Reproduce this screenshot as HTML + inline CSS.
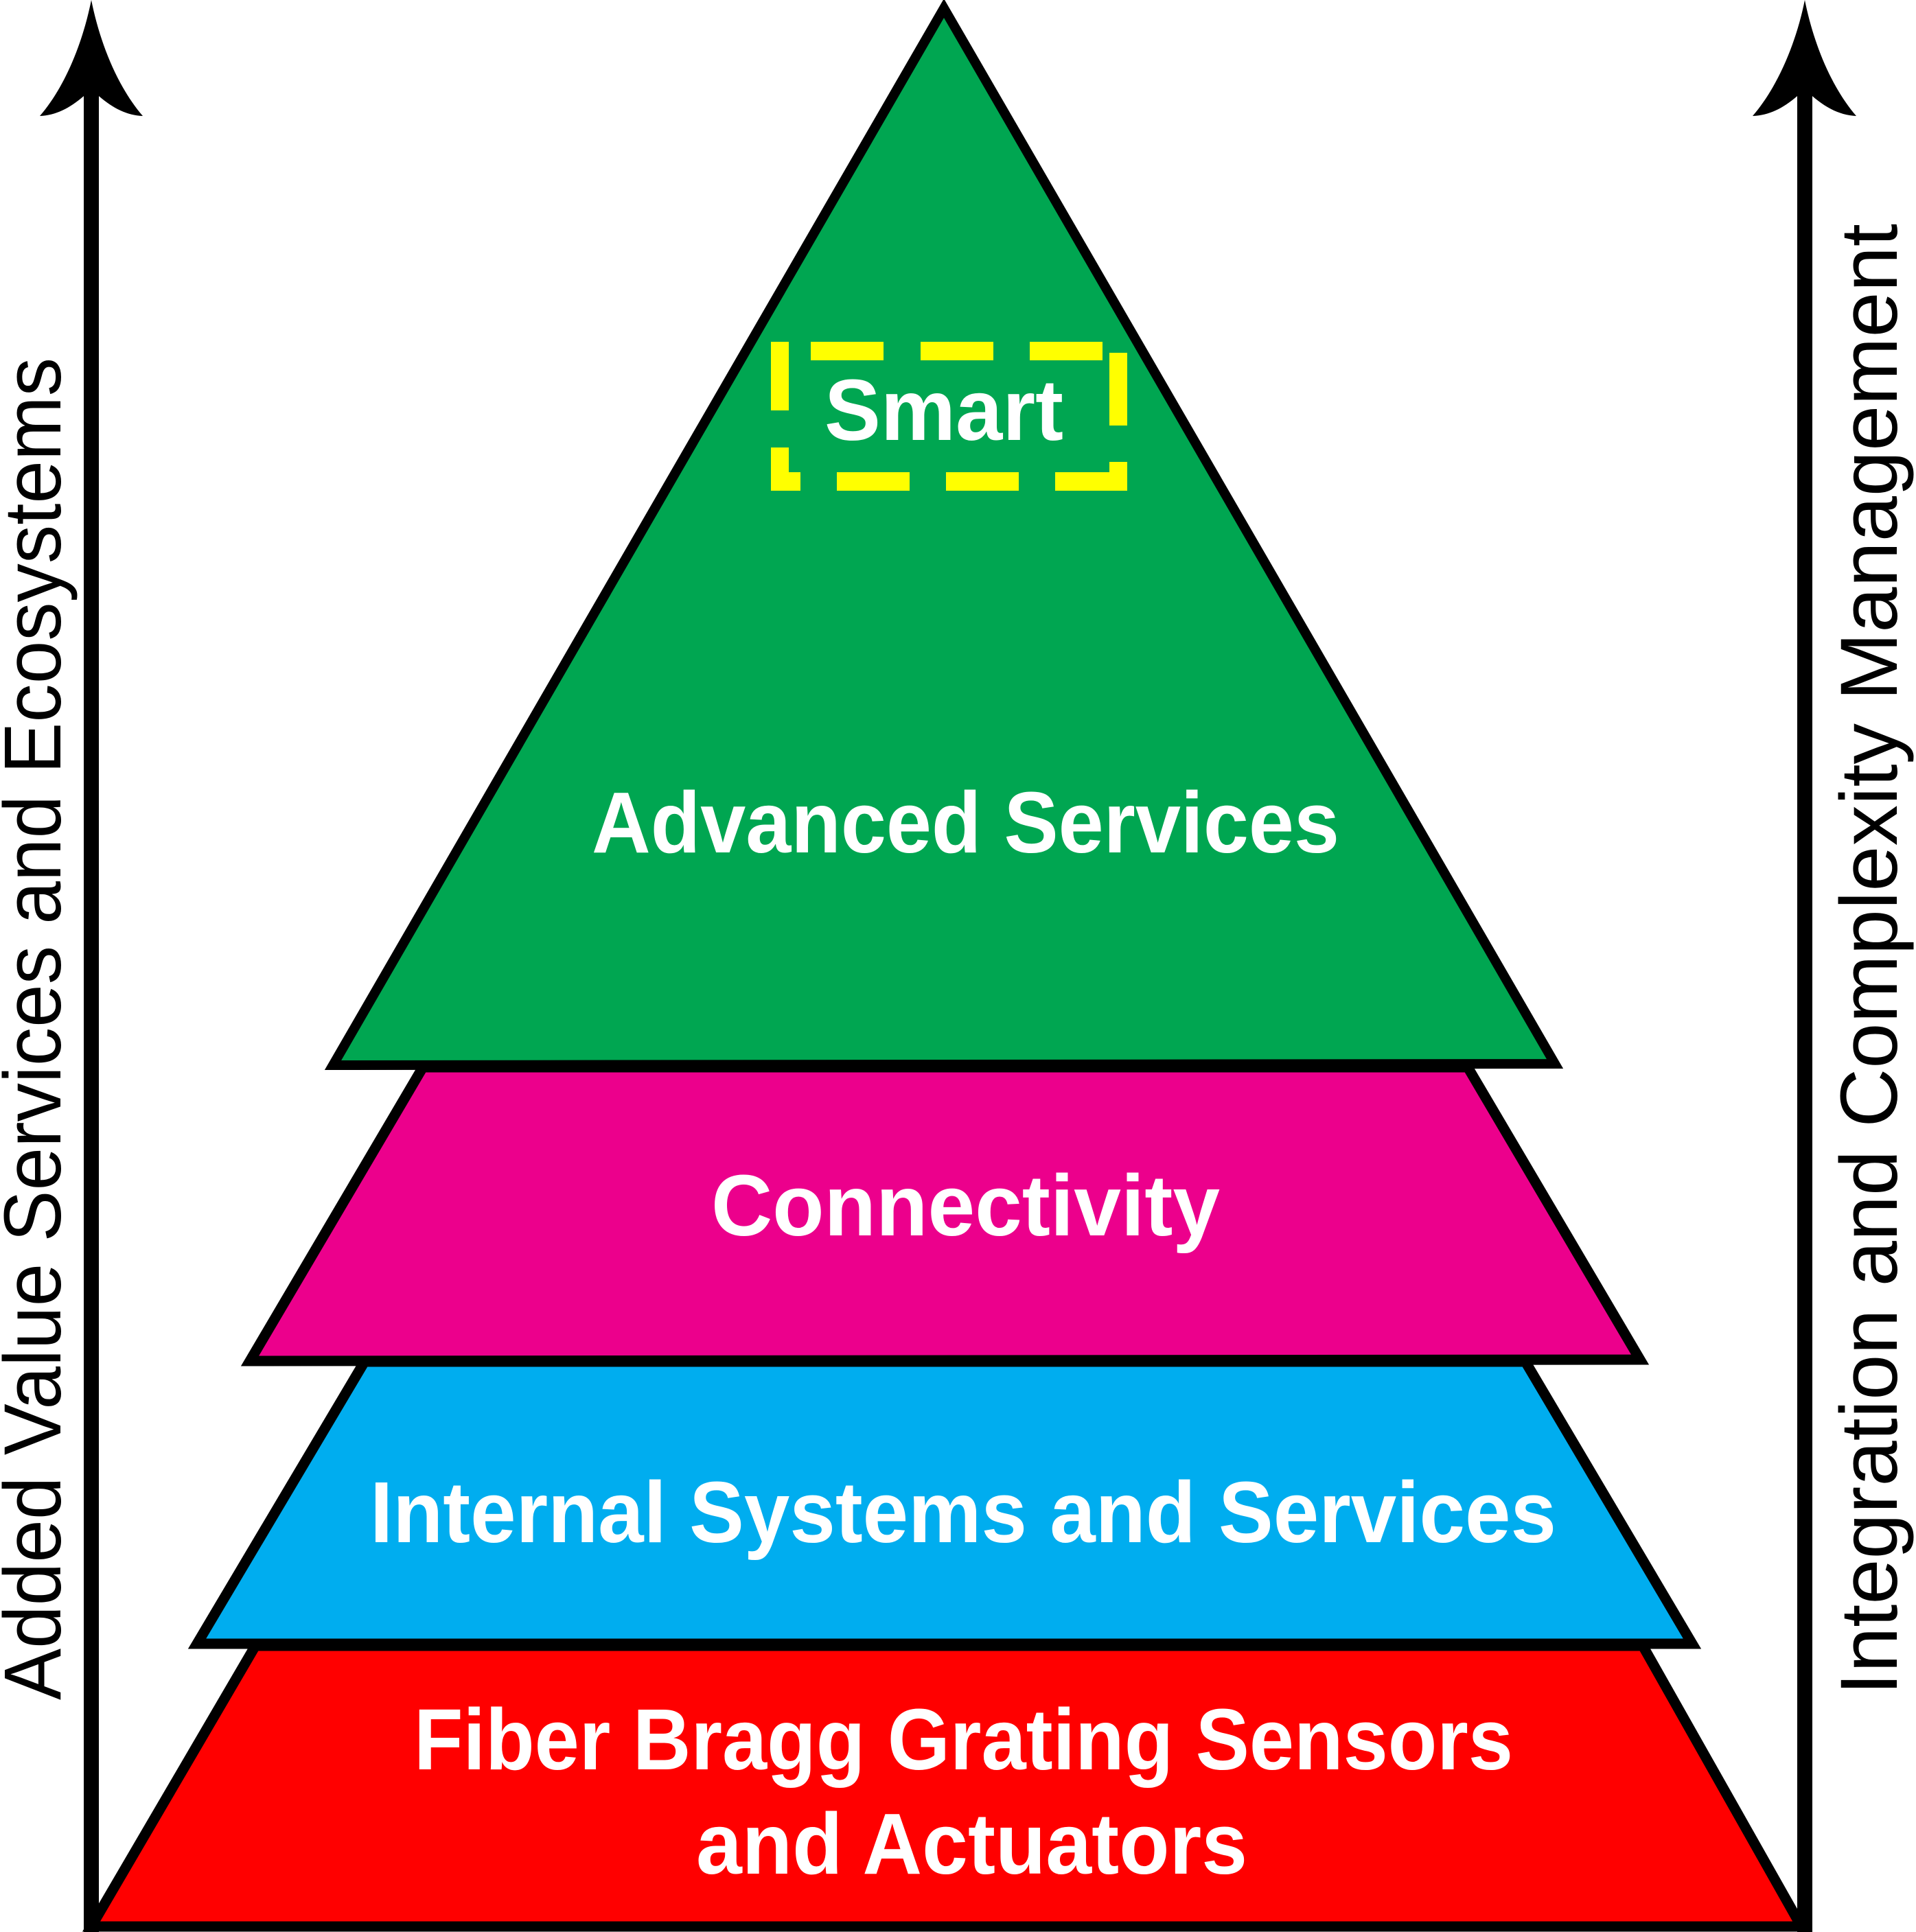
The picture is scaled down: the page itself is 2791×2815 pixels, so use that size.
<!DOCTYPE html>
<html><head><meta charset="utf-8"><style>html,body{margin:0;padding:0;background:#fff}svg{display:block}</style></head>
<body>
<svg width="2791" height="2815" viewBox="0 0 2791 2815" xmlns="http://www.w3.org/2000/svg">
<polygon points="372,2398 2393,2398 2624,2807 133,2807" fill="#ff0000" stroke="#000" stroke-width="15"/>
<polygon points="531,1984 2222,1984 2465,2395 287,2395" fill="#00adef" stroke="#000" stroke-width="15"/>
<polygon points="616,1555 2138,1555 2389,1981 364,1983" fill="#ec008c" stroke="#000" stroke-width="15"/>
<polygon points="1375,12 2265,1550 485,1552" fill="#00a651" stroke="#000" stroke-width="14"/>
<g fill="#ffff00">
<rect x="1123" y="498" width="26" height="100"/>
<rect x="1181" y="498" width="106" height="27"/>
<rect x="1341" y="498" width="106" height="27"/>
<rect x="1500" y="498" width="106" height="27"/>
<rect x="1616" y="514" width="26" height="106"/>
<rect x="1123" y="652" width="26" height="63"/>
<rect x="1123" y="688" width="43" height="27"/>
<rect x="1219" y="688" width="106" height="27"/>
<rect x="1378" y="688" width="106" height="27"/>
<rect x="1537" y="688" width="105" height="27"/>
<rect x="1616" y="673" width="26" height="42"/>
</g>
<rect x="122" y="140" width="22" height="2675" fill="#000"/>
<path d="M133,0 C145,60 170,125 208,169 C185,168 165,158 144,140 L122,140 C101,158 81,168 58,169 C96,125 121,60 133,0 Z" fill="#000"/>
<rect x="2618" y="140" width="22" height="2675" fill="#000"/>
<path d="M2629,0 C2641,60 2666,125 2704,169 C2681,168 2661,158 2640,140 L2618,140 C2597,158 2577,168 2553,169 C2591,125 2617,60 2629,0 Z" fill="#000"/>
<g font-family="'Liberation Sans', sans-serif" font-weight="bold" fill="#fff" font-size="126">
<text x="1201" y="641" textLength="348" lengthAdjust="spacingAndGlyphs">Smart</text>
<text x="862" y="1242" textLength="1089" lengthAdjust="spacingAndGlyphs">Advanced Services</text>
<text x="1036" y="1800" textLength="741" lengthAdjust="spacingAndGlyphs">Connectivity</text>
<text x="539" y="2247" textLength="1728" lengthAdjust="spacingAndGlyphs">Internal Systems and Services</text>
<text x="603" y="2578" textLength="1601" lengthAdjust="spacingAndGlyphs">Fiber Bragg Grating Sensors</text>
<text x="1014" y="2730" textLength="803" lengthAdjust="spacingAndGlyphs">and Actuators</text>
</g>
<g font-family="'Liberation Sans', sans-serif" fill="#000" font-size="118">
<text transform="translate(88,2477) rotate(-90)" textLength="1956" lengthAdjust="spacingAndGlyphs">Added Value Services and Ecosystems</text>
<text transform="translate(2763,2470) rotate(-90)" textLength="2144" lengthAdjust="spacingAndGlyphs">Integration and Complexity Management</text>
</g>
</svg>
</body></html>
